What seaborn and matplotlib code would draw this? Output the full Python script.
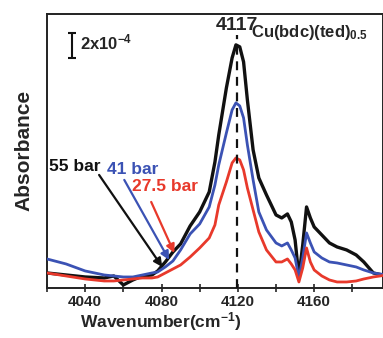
import numpy as np
import pandas as pd
import matplotlib
matplotlib.use("Agg")
import matplotlib.pyplot as plt
import seaborn as sns

# ---- data (absorbance in units of 1e-4) ----
wavenumber = [4020, 4030, 4040, 4050, 4055, 4060, 4065, 4070, 4075, 4078,
              4082, 4086, 4090, 4095, 4100, 4105, 4108, 4110, 4114, 4117,
              4119, 4121, 4123, 4125, 4128, 4131, 4135, 4140, 4143, 4146,
              4148, 4150, 4152, 4154, 4156, 4158, 4160, 4164, 4168, 4172,
              4177, 4182, 4186, 4191, 4198]
abs_55 = [1.20, 1.04, 0.88, 0.80, 0.96, 0.24, 0.64, 0.96, 1.04, 1.36,
          2.08, 2.88, 3.52, 4.96, 6.08, 7.68, 10.08, 12.24, 16.0, 18.4,
          19.44, 19.28, 18.08, 15.04, 11.04, 8.8, 7.44, 5.84, 5.6, 5.92,
          5.28, 3.84, 0.88, 3.44, 6.48, 5.6, 4.88, 4.24, 3.6, 3.28,
          3.04, 2.64, 2.08, 1.2, 0.96]
abs_41 = [2.32, 1.92, 1.36, 1.04, 0.96, 0.88, 0.88, 1.04, 1.2, 1.28,
          1.68, 2.16, 3.04, 4.32, 5.12, 6.48, 8.24, 9.84, 12.4, 14.24,
          14.8, 14.56, 13.6, 11.44, 8.64, 6.08, 4.64, 3.6, 3.36, 3.6,
          3.04, 2.4, 0.8, 2.4, 4.4, 3.6, 2.88, 2.4, 2.08, 2.0,
          1.84, 1.68, 1.44, 1.2, 1.04]
abs_275 = [1.2, 0.96, 0.72, 0.56, 0.56, 0.64, 0.72, 0.8, 0.8, 0.88,
           1.2, 1.52, 1.84, 2.48, 3.2, 4.0, 5.04, 6.64, 8.48, 10.0,
           10.4, 10.24, 9.44, 8.0, 6.24, 4.48, 3.04, 2.08, 2.08, 2.32,
           1.92, 1.44, 0.48, 1.6, 3.2, 2.08, 1.44, 0.96, 0.64, 0.48,
           0.48, 0.56, 0.72, 0.88, 1.04]
series_labels = ["55 bar", "41 bar", "27.5 bar"]
series_colors = ["#111111", "#3b52b4", "#e8392b"]
xticks_major = [4040, 4080, 4120, 4160]
peak_label = "4117"
sample_label = "Cu(bdc)(ted)$_{0.5}$"
scale_label = "2x10$^{-4}$"

df = pd.DataFrame({
    "wavenumber": wavenumber * 3,
    "absorbance": abs_55 + abs_41 + abs_275,
    "pressure": [series_labels[0]] * len(wavenumber)
                + [series_labels[1]] * len(wavenumber)
                + [series_labels[2]] * len(wavenumber),
})

sns.set_style("white")
plt.rcParams["font.family"] = ["Liberation Sans", "DejaVu Sans"]
plt.rcParams["font.weight"] = "bold"
plt.rcParams["mathtext.fontset"] = "custom"
plt.rcParams["mathtext.rm"] = "Liberation Sans:bold"
plt.rcParams["mathtext.bf"] = "Liberation Sans:bold"
plt.rcParams["mathtext.it"] = "Liberation Sans:bold"
plt.rcParams["mathtext.default"] = "bf"

fig = plt.figure(figsize=(3.83, 3.38), dpi=100)
ax = fig.add_axes([0.1227, 0.148, 0.877, 0.811])

widths = {series_labels[0]: 2.4, series_labels[1]: 2.0, series_labels[2]: 2.0}
for lab, col in zip(series_labels, series_colors):
    sub = df[df["pressure"] == lab]
    sns.lineplot(data=sub, x="wavenumber", y="absorbance", color=col,
                 lw=widths[lab], ax=ax, legend=False, zorder=3)

ax.set_xlim(4020, 4196)
ax.set_ylim(0, 21.92)
ax.set_xticks(xticks_major)
ax.set_xticks(np.arange(4020, 4197, 20), minor=True)
ax.set_yticks([])
ax.tick_params(axis="x", which="both", direction="inout", length=6, width=1.2,
               labelsize=11, pad=2, bottom=True)
for t in ax.get_xticklabels():
    t.set_fontweight("bold")
for s in ax.spines.values():
    s.set_linewidth(1.4)
    s.set_color("#222222")

ax.set_xlabel("Wavenumber(cm$^{-1}$)", fontsize=12.5, fontweight="bold", labelpad=1)
ax.xaxis.set_label_coords(0.339, -0.124)
ax.xaxis.label.set_va("center")
ax.set_ylabel("Absorbance", fontsize=15, fontweight="bold", labelpad=10)

# dashed peak marker
ax.plot([4119.5, 4119.5], [0, 20.24], ls=(0, (4, 3)), color="#111111", lw=1.6, zorder=4)
ax.text(4119.3, 21.0, peak_label, ha="center", va="center", fontsize=14, fontweight="bold")
ax.text(4127, 20.4, sample_label, ha="left", va="center", fontsize=12, fontweight="bold")

# scale bar
ax.errorbar([4033.2], [19.4], yerr=[1.0], color="#111111", capsize=3, lw=1.5,
            capthick=1.5, fmt="none")
ax.text(4037.5, 19.6, scale_label, ha="left", va="center", fontsize=12, fontweight="bold")

# pressure labels with arrows
text_pos = [(4021.0, 9.68), (4051.5, 9.44), (4064.6, 8.08)]
arrow_tail = [(4047.3, 9.04), (4060.5, 8.64), (4074.6, 6.88)]
arrow_head = [(4080.4, 1.68), (4084.0, 2.24), (4086.7, 2.8)]
for lab, col, tp, tail, head in zip(series_labels, series_colors, text_pos, arrow_tail, arrow_head):
    ax.text(tp[0], tp[1], lab, color=col, ha="left", va="center",
            fontsize=12.5, fontweight="bold", zorder=6)
    ax.annotate("", xy=head, xytext=tail,
                arrowprops=dict(arrowstyle="-|>,head_length=0.5,head_width=0.25",
                                color=col, lw=1.6, shrinkA=0, shrinkB=0), zorder=5)

fig.savefig("out.png", dpi=100)
